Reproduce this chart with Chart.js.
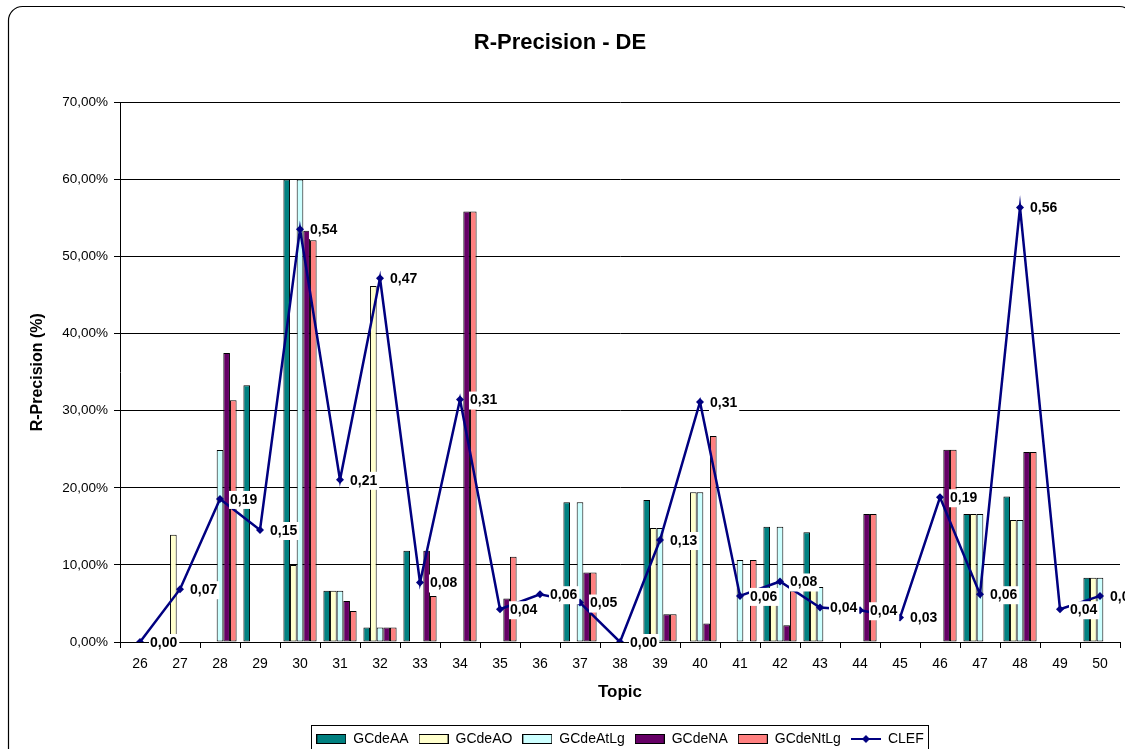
<!DOCTYPE html>
<html>
<head>
<meta charset="utf-8">
<script src="https://cdn.jsdelivr.net/npm/chart.js@4"></script>
<style>
  html, body { margin: 0; padding: 0; background: #fff; }
  #wrap { width: 1125px; height: 749px; }
</style>
</head>
<body>
<div id="wrap"><canvas id="chart" width="1125" height="749"></canvas></div>
<script>
var topics = ["26", "27", "28", "29", "30", "31", "32", "33", "34", "35", "36", "37", "38",
              "39", "40", "41", "42", "43", "44", "45", "46", "47", "48", "49", "50"];

var gcdeAA   = [0, 0, 0, 0.333, 0.6, 0.0664, 0.0187, 0.1184, 0, 0, 0, 0.1813, 0,
                0.1843, 0, 0, 0.1496, 0.1423, 0, 0, 0, 0.1661, 0.1887, 0, 0.0833];
var gcdeAO   = [0, 0.139, 0, 0, 0.10, 0.0664, 0.4619, 0, 0, 0, 0, 0, 0,
                0.1478, 0.1943, 0, 0.0664, 0.07, 0, 0, 0, 0.1661, 0.1582, 0, 0.0833];
var gcdeAtLg = [0, 0, 0.249, 0, 0.6, 0.0664, 0.0187, 0, 0, 0, 0, 0.1813, 0,
                0.1478, 0.1943, 0.1063, 0.1496, 0.0714, 0, 0, 0, 0.1661, 0.1582, 0, 0.0833];
var gcdeNA   = [0, 0, 0.375, 0, 0.5334, 0.0533, 0.0187, 0.1184, 0.5586, 0.0564, 0, 0.0902, 0,
                0.036, 0.0239, 0, 0.0217, 0, 0.1661, 0, 0.2494, 0, 0.2464, 0, 0];
var gcdeNtLg = [0, 0, 0.3136, 0, 0.5213, 0.0403, 0.0187, 0.0598, 0.5586, 0.1106, 0, 0.0902, 0,
                0.036, 0.2672, 0.1063, 0.0664, 0, 0.1661, 0, 0.2494, 0, 0.2464, 0, 0];
var clef     = [0, 0.0685, 0.1856, 0.1453, 0.5356, 0.2104, 0.4719, 0.0772, 0.3145, 0.0425, 0.062, 0.0512, 0,
                0.1323, 0.3114, 0.0598, 0.0785, 0.0447, 0.0412, 0.0317, 0.1878, 0.062, 0.5638, 0.0425, 0.0598];

var yTicks = [0, 0.1, 0.2, 0.3, 0.4, 0.5, 0.6, 0.7];

var FONT = "'Liberation Sans', Arial, sans-serif";

function fmtComma(v, digits) {
    return v.toFixed(digits).replace('.', ',');
}

// little pictures for the legend keys (Excel style)
function boxKey(color) {
    var c = document.createElement('canvas');
    c.width = 30; c.height = 10;
    var g = c.getContext('2d');
    g.fillStyle = color;
    g.fillRect(1, 1, 28, 8);
    g.strokeStyle = '#000';
    g.lineWidth = 1;
    g.strokeRect(0.5, 0.5, 29, 9);
    return c;
}

function lineKey(color) {
    var c = document.createElement('canvas');
    c.width = 30; c.height = 10;
    var g = c.getContext('2d');
    g.strokeStyle = color;
    g.lineWidth = 2;
    g.beginPath(); g.moveTo(0, 5); g.lineTo(30, 5); g.stroke();
    g.fillStyle = color;
    g.beginPath(); g.moveTo(15, 1); g.lineTo(19, 5); g.lineTo(15, 9); g.lineTo(11, 5); g.closePath(); g.fill();
    return c;
}

function barSet(label, data, color) {
    return {
        type: 'bar',
        label: label,
        data: data,
        backgroundColor: color,
        borderColor: '#000',
        borderWidth: ctx => (ctx.raw ? 1 : 0),
        borderSkipped: false,
        categoryPercentage: 0.83,
        barPercentage: 1.0,
        order: 1
    };
}

var frame = {
    id: 'frame',
    beforeDraw(chart) {
        var ctx = chart.ctx;
        ctx.save();
        ctx.fillStyle = '#fff';
        ctx.fillRect(0, 0, chart.width, chart.height);
        ctx.strokeStyle = '#000';
        ctx.lineWidth = 1.2;
        ctx.beginPath();
        ctx.roundRect(8.5, 6.5, 1125, 780, 14);
        ctx.stroke();
        ctx.restore();
    },
    afterDraw(chart) {
        // border round the legend
        var lg = chart.legend;
        if (!lg || !lg.legendHitBoxes.length) return;
        var boxes = lg.legendHitBoxes;
        var x0 = boxes[0].left - 5;
        var last = boxes[boxes.length - 1];
        var x1 = last.left + last.width + 5;
        var y0 = boxes[0].top - 7;
        var ctx = chart.ctx;
        ctx.save();
        ctx.strokeStyle = '#000';
        ctx.lineWidth = 1;
        ctx.strokeRect(Math.round(x0) + 0.5, Math.round(y0) + 0.5, Math.round(x1 - x0), 60);
        ctx.restore();
    }
};

// value labels of the CLEF line, white box behind
var clefLabels = {
    id: 'clefLabels',
    afterDatasetsDraw(chart) {
        var idx = chart.data.datasets.findIndex(d => d.label === 'CLEF');
        var meta = chart.getDatasetMeta(idx);
        var ctx = chart.ctx;
        ctx.save();
        ctx.font = 'bold 14px ' + FONT;
        ctx.textBaseline = 'middle';
        meta.data.forEach((pt, i) => {
            var txt = fmtComma(clef[i], 2);
            var w = ctx.measureText(txt).width;
            var x = pt.x + 10;
            var y = pt.y + 1;
            ctx.fillStyle = '#fff';
            ctx.fillRect(x - 1, y - 9, w + 3, 18);
            ctx.fillStyle = '#000';
            ctx.fillText(txt, x, y);
        });
        ctx.restore();
    }
};

var ctx = document.getElementById('chart').getContext('2d');
var chart = new Chart(ctx, {
    data: {
        labels: topics,
        datasets: [
            barSet('GCdeAA', gcdeAA, '#008080'),
            barSet('GCdeAO', gcdeAO, '#FFFFCC'),
            barSet('GCdeAtLg', gcdeAtLg, '#CCFFFF'),
            barSet('GCdeNA', gcdeNA, '#660066'),
            barSet('GCdeNtLg', gcdeNtLg, '#FF8080'),
            {
                type: 'line',
                label: 'CLEF',
                data: clef,
                borderColor: '#000080',
                backgroundColor: '#000080',
                borderWidth: 2.5,
                pointStyle: 'rectRot',
                pointRadius: 4,
                pointBorderWidth: 0,
                tension: 0,
                fill: false,
                order: 0
            }
        ]
    },
    options: {
        responsive: false,
        animation: false,
        layout: { padding: { left: 0, right: 5, top: 0, bottom: -7 } },
        plugins: {
            title: {
                display: true,
                text: 'R-Precision - DE',
                color: '#000',
                font: { family: FONT, size: 22, weight: 'bold' },
                padding: { top: 30, bottom: 46 }
            },
            tooltip: { enabled: false },
            legend: {
                position: 'bottom',
                fullSize: false,
                labels: {
                    usePointStyle: true,
                    pointStyleWidth: 30,
                    padding: 10,
                    color: '#000',
                    font: { family: FONT, size: 14 },
                    sort: (a, b) => a.datasetIndex - b.datasetIndex,
                    generateLabels(chart) {
                        return chart.data.datasets.map((d, i) => ({
                            text: d.label,
                            datasetIndex: i,
                            pointStyle: d.type === 'line' ? lineKey(d.borderColor) : boxKey(d.backgroundColor),
                            fillStyle: d.backgroundColor,
                            strokeStyle: '#000',
                            lineWidth: 0,
                            hidden: false
                        }));
                    }
                }
            }
        },
        scales: {
            x: {
                offset: true,
                grid: {
                    display: true,
                    drawOnChartArea: false,
                    drawTicks: true,
                    tickLength: 6,
                    color: '#000'
                },
                border: { color: '#000', width: 1 },
                ticks: {
                    color: '#000',
                    padding: 8,
                    maxRotation: 0,
                    font: { family: FONT, size: 14 }
                },
                title: {
                    display: true,
                    text: 'Topic',
                    color: '#000',
                    font: { family: FONT, size: 17, weight: 'bold' },
                    padding: { top: 0, bottom: 19 }
                },
                afterFit(scale) { scale.height = 80; }
            },
            y: {
                min: 0,
                max: 0.7,
                afterBuildTicks(scale) { scale.ticks = yTicks.map(v => ({ value: v })); },
                grid: {
                    color: '#000',
                    lineWidth: 1,
                    drawTicks: true,
                    tickLength: 6
                },
                border: { color: '#000', width: 1 },
                ticks: {
                    color: '#000',
                    padding: 6,
                    font: { family: FONT, size: 13.5 },
                    callback: v => fmtComma(v * 100, 2) + '%'
                },
                title: {
                    display: true,
                    text: 'R-Precision (%)',
                    color: '#000',
                    font: { family: FONT, size: 16, weight: 'bold' },
                    padding: { top: 28, bottom: 0 }
                },
                afterFit(scale) { scale.width = 120; }
            }
        }
    },
    plugins: [frame, clefLabels]
});
</script>
</body>
</html>
